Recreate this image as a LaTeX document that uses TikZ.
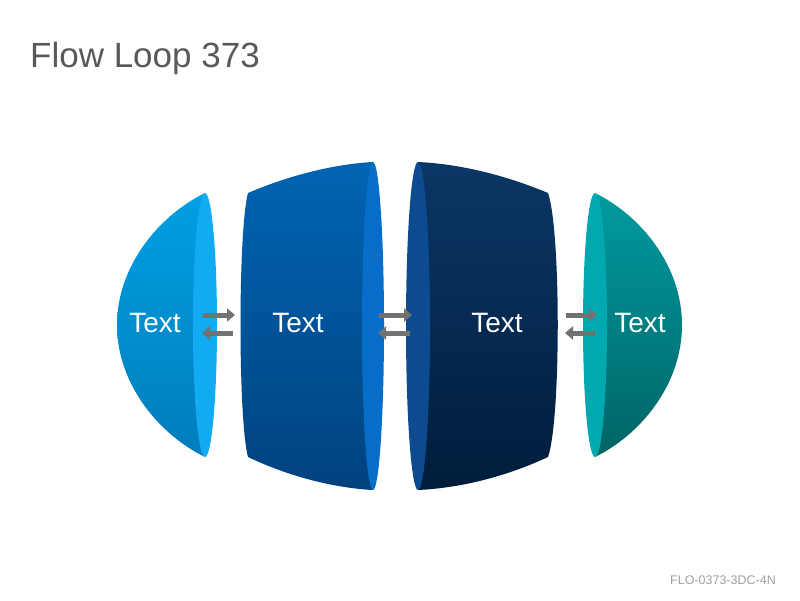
\documentclass[tikz,border=0pt]{standalone}
\usepackage{fontspec}
\setmainfont{Liberation Sans}
\usetikzlibrary{arrows.meta,positioning}
\definecolor{skytop}{HTML}{00A0E2}
\definecolor{skybot}{HTML}{007CBC}
\definecolor{skyface}{HTML}{12ABF2}
\definecolor{bluetop}{HTML}{0064B3}
\definecolor{bluebot}{HTML}{00427E}
\definecolor{blueface}{HTML}{066EC8}
\definecolor{navytop}{HTML}{0B3766}
\definecolor{navybot}{HTML}{001C3B}
\definecolor{navyface}{HTML}{0C4B8F}
\definecolor{tealtop}{HTML}{009A9F}
\definecolor{tealbot}{HTML}{006466}
\definecolor{tealface}{HTML}{00A8AF}
\definecolor{arrowgray}{HTML}{727272}
\definecolor{titlegray}{HTML}{595959}
\definecolor{footgray}{HTML}{A0A0A0}
\tikzstyle{seglabel} = [text=white, font=\fontsize{28}{32}\selectfont]
\tikzstyle{flowarrow} = [draw=arrowgray, line width=5pt,
    -{Triangle[length=8pt,width=13pt]}]

\begin{document}
\begin{tikzpicture}[x=1pt,y=-1pt]
  \useasboundingbox (0,0) rectangle (800,600);
  \node [anchor=base west, inner sep=0, text=titlegray, font=\fontsize{35}{40}\selectfont] (title) at (30,67) {Flow Loop 373};
  % segment bodies
  \shade [top color=skytop, bottom color=skybot] (205,193) .. controls (160,215) and (117,265) .. (117,325)
    .. controls (117,385) and (160,435) .. (205,457) -- cycle;
  \shade [top color=bluetop, bottom color=bluebot] (248,193) .. controls (290,175) and (335,164) .. (373,162)
    -- (373,490) .. controls (335,488) and (290,477) .. (248,457) .. controls (238,420) and (238,230) .. (248,193) -- cycle;
  \shade [top color=navytop, bottom color=navybot] (418,162) .. controls (460,164) and (505,175) .. (548,193)
    .. controls (561,230) and (561,420) .. (548,457) .. controls (505,477) and (460,488) .. (418,490) -- cycle;
  \shade [top color=tealtop, bottom color=tealbot] (595,193) .. controls (640,215) and (682,265) .. (682,325)
    .. controls (682,385) and (640,435) .. (595,457) -- cycle;
  % faces
  \fill [skyface] (205,325) ellipse [x radius=12, y radius=132];
  \fill [blueface] (373,326) ellipse [x radius=11, y radius=164];
  \fill [navyface] (418,326) ellipse [x radius=12, y radius=164];
  \fill [tealface] (595,325) ellipse [x radius=12, y radius=132];
  % labels
  \node [seglabel] (t1) at (155,323) {Text};
  \node [seglabel] (t2) at (298,323) {Text};
  \node [seglabel] (t3) at (497,323) {Text};
  \node [seglabel] (t4) at (640,323) {Text};
  % arrow pairs
  \foreach \xa/\xb [count=\i] in {203/235, 379/412, 566/597} {
    \coordinate (fa\i) at (\xa,315);
    \coordinate (fb\i) at (\xb,315);
    \coordinate (ba\i) at (\xb-2,333);
    \coordinate (bb\i) at (\xa-1,333);
    \draw [flowarrow] (fa\i) -- (fb\i);
    \draw [flowarrow] (ba\i) -- (bb\i);
  }
  \node [anchor=base east, inner sep=0, text=footgray, font=\fontsize{12.5}{15}\selectfont] (code) at (776,584) {FLO-0373-3DC-4N};
\end{tikzpicture}
\end{document}
